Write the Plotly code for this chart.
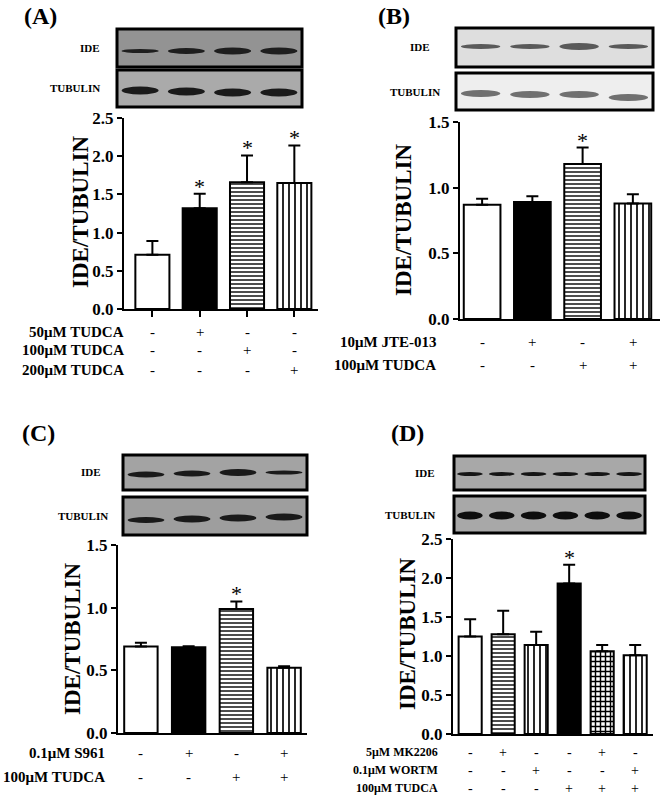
import plotly.graph_objects as go

# ---------------- data ----------------
A_values = [0.71, 1.32, 1.66, 1.65]
A_errors = [0.18, 0.19, 0.35, 0.49]
A_stars = [False, True, True, True]
A_rows = ["50\u03bcM TUDCA", "100\u03bcM TUDCA", "200\u03bcM TUDCA"]
A_signs = [["-", "+", "-", "-"], ["-", "-", "+", "-"], ["-", "-", "-", "+"]]

B_values = [0.87, 0.89, 1.18, 0.88]
B_errors = [0.045, 0.045, 0.125, 0.07]
B_stars = [False, False, True, False]
B_rows = ["10\u03bcM JTE-013", "100\u03bcM TUDCA"]
B_signs = [["-", "+", "-", "+"], ["-", "-", "+", "+"]]

C_values = [0.69, 0.685, 0.99, 0.52]
C_errors = [0.03, 0.008, 0.06, 0.012]
C_stars = [False, False, True, False]
C_rows = ["0.1\u03bcM S961", "100\u03bcM TUDCA"]
C_signs = [["-", "+", "-", "+"], ["-", "-", "+", "+"]]

D_values = [1.25, 1.28, 1.14, 1.93, 1.06, 1.01]
D_errors = [0.22, 0.30, 0.17, 0.24, 0.08, 0.13]
D_stars = [False, False, False, True, False, False]
D_rows = ["5\u03bcM MK2206", "0.1\u03bcM WORTM", "100\u03bcM TUDCA"]
D_signs = [["-", "+", "-", "-", "+", "-"], ["-", "-", "+", "-", "-", "+"],
           ["-", "-", "-", "+", "+", "+"]]

W, H = 660, 800
SERIF = "Liberation Serif, Times New Roman, serif"


def px(x):
    return x / W


def py(y):
    return 1 - y / H


# fill styles: (colour, pattern shape, pattern size, solidity)
WHITE = ("white", "", 8, 0.3)
BLACK = ("black", "", 8, 0.3)
HLINE = ("white", "-", 4, 0.35)
VLINE = ("white", "|", 6, 0.28)
CHECK = ("white", "+", 5, 0.5)

fig = go.Figure()
annotations = []
shapes = []

panels = [
    dict(name="(A)", lab=(40, 16), vals=A_values, errs=A_errors, stars=A_stars,
         rows=A_rows, signs=A_signs, ymax=2.5, dom_x=(124, 318), dom_y=(118, 309),
         xr=(-0.6, 3.5), width=0.72, fills=[WHITE, BLACK, HLINE, VLINE], xticks=True,
         title=(80, 212), rowx=126, rowy=[332, 350, 370], rowfs=15, signfs=15,
         blots=[("IDE", (117, 302, 29, 67), "#939393", "#1e1e1e", [4, 6, 7, 7], [3, 3, 3, 3], 102),
                ("TUBULIN", (117, 302, 70, 107), "#aaaaaa", "#1a1a1a", [8, 8, 8, 8], [2, 3, 4, 4], 102)],
         xaxis="x", yaxis="y"),
    dict(name="(B)", lab=(394, 16), vals=B_values, errs=B_errors, stars=B_stars,
         rows=B_rows, signs=B_signs, ymax=1.5, dom_x=(460, 660), dom_y=(122, 319),
         xr=(-0.44, 3.54), width=0.73, fills=[WHITE, BLACK, HLINE, VLINE], xticks=False,
         title=(403, 220), rowx=438, rowy=[342, 365], rowfs=15, signfs=15,
         blots=[("IDE", (456, 653, 28, 67), "#dedede", "#5a5a5a", [5, 5, 7, 5], [-1, -1, -1, -1], 432),
                ("TUBULIN", (456, 653, 73, 110), "#eeeeee", "#707070", [7, 7, 7, 7], [2, 3, 3, 6], 442)],
         xaxis="x2", yaxis="y2"),
    dict(name="(C)", lab=(38, 433), vals=C_values, errs=C_errors, stars=C_stars,
         rows=C_rows, signs=C_signs, ymax=1.5, dom_x=(118, 307), dom_y=(545, 733),
         xr=(-0.48, 3.48), width=0.7, fills=[WHITE, BLACK, HLINE, VLINE], xticks=False,
         title=(72, 639), rowx=107, rowy=[753, 777], rowfs=15, signfs=15,
         blots=[("IDE", (123, 307, 455, 490), "#a3a3a3", "#1a1a1a", [6, 6, 7, 4], [2, 1, 0, 0], 103),
                ("TUBULIN", (123, 307, 497, 535), "#9e9e9e", "#1a1a1a", [6, 7, 7, 7], [4, 3, 2, 1], 110)],
         xaxis="x3", yaxis="y3"),
    dict(name="(D)", lab=(407, 433), vals=D_values, errs=D_errors, stars=D_stars,
         rows=D_rows, signs=D_signs, ymax=2.5, dom_x=(453, 653), dom_y=(539, 734),
         xr=(-0.52, 5.54), width=0.7, fills=[WHITE, HLINE, VLINE, BLACK, CHECK, VLINE],
         xticks=False, title=(407, 634), rowx=440, rowy=[752, 770, 788], rowfs=12, signfs=14,
         blots=[("IDE", (454, 645, 456, 490), "#a8a8a8", "#151515", [4, 4, 4, 4, 4, 4], [1] * 6, 437),
                ("TUBULIN", (454, 645, 496, 533), "#a8a8a8", "#0e0e0e", [8, 8, 8, 8, 8, 8], [1] * 6, 437)],
         xaxis="x4", yaxis="y4"),
]

for i, p in enumerate(panels):
    n = len(p["vals"])
    xs = list(range(n))
    for k in range(n):
        col, shp, sz, sol = p["fills"][k]
        marker = dict(color=col, line=dict(color="black", width=2))
        if shp:
            marker["pattern"] = dict(shape=shp, size=sz, solidity=sol,
                                     fgcolor="black", bgcolor="white", fillmode="replace")
        fig.add_trace(go.Bar(
            x=[xs[k]], y=[p["vals"][k]], width=p["width"],
            xaxis=p["xaxis"], yaxis=p["yaxis"], marker=marker,
            error_y=dict(type="data", symmetric=False, array=[p["errs"][k]],
                         arrayminus=[0], color="black", thickness=2, width=6),
            showlegend=False, hoverinfo="skip",
        ))
    sfx = "" if i == 0 else str(i + 1)
    x0, x1 = p["dom_x"]
    ytop, ybot = p["dom_y"]
    fig.update_layout(**{
        "xaxis" + sfx: dict(
            domain=[px(x0), px(x1)], range=list(p["xr"]), anchor=p["yaxis"],
            showline=True, linewidth=2, linecolor="black", showgrid=False,
            zeroline=False, showticklabels=False, automargin=False,
            ticks="outside" if p["xticks"] else "", tickvals=xs,
            ticklen=6, tickwidth=2, tickcolor="black", fixedrange=True),
        "yaxis" + sfx: dict(
            domain=[py(ybot), py(ytop)], range=[0, p["ymax"]], anchor=p["xaxis"],
            showline=True, linewidth=2, linecolor="black", showgrid=False,
            zeroline=False, ticks="outside", ticklen=5, tickwidth=2, automargin=False,
            tickcolor="black", dtick=0.5, tickformat=".1f",
            tickfont=dict(family=SERIF, size=17, color="black", weight="bold"),
            fixedrange=True),
    })

    # stars
    for k in range(n):
        if p["stars"][k]:
            annotations.append(dict(
                x=k, y=p["vals"][k] + p["errs"][k], xref=p["xaxis"], yref=p["yaxis"],
                text="*", showarrow=False, yanchor="bottom", yshift=-7,
                font=dict(family=SERIF, size=22, color="black")))

    # treatment rows
    for r, (lab, signs) in enumerate(zip(p["rows"], p["signs"])):
        yy = py(p["rowy"][r])
        annotations.append(dict(
            x=px(p["rowx"]), y=yy, xref="paper", yref="paper", text=lab,
            showarrow=False, xanchor="right", yanchor="middle",
            font=dict(family=SERIF, size=p["rowfs"], color="black", weight="bold")))
        for k, s in enumerate(signs):
            annotations.append(dict(
                x=k, y=yy, xref=p["xaxis"], yref="paper", text=s,
                showarrow=False, xanchor="center", yanchor="middle",
                font=dict(family=SERIF, size=p["signfs"], color="black")))

    # axis title
    annotations.append(dict(
        x=px(p["title"][0]), y=py(p["title"][1]), xref="paper", yref="paper",
        text="IDE/TUBULIN", textangle=-90, showarrow=False,
        xanchor="center", yanchor="middle",
        font=dict(family=SERIF, size=23, color="black", weight="bold")))

    # panel letter
    annotations.append(dict(
        x=px(p["lab"][0]), y=py(p["lab"][1]), xref="paper", yref="paper",
        text=p["name"], showarrow=False, xanchor="center", yanchor="middle",
        font=dict(family=SERIF, size=24, color="black", weight="bold")))

    # blots (illustrative)
    for (blab, (bx0, bx1, by0, by1), bg, band, hts, dys, labx) in p["blots"]:
        shapes.append(dict(type="rect", xref="paper", yref="paper",
                           x0=px(bx0), x1=px(bx1), y0=py(by1), y1=py(by0),
                           fillcolor=bg, line=dict(color="black", width=3), layer="above"))
        lane = (bx1 - bx0) / len(hts)
        for k, h in enumerate(hts):
            cx = bx0 + lane * (k + 0.5)
            cy = (by0 + by1) / 2 + dys[k]
            shapes.append(dict(type="circle", xref="paper", yref="paper",
                               x0=px(cx - lane * 0.4), x1=px(cx + lane * 0.4),
                               y0=py(cy + h / 2), y1=py(cy - h / 2),
                               fillcolor=band, line=dict(width=0), layer="above"))
        annotations.append(dict(
            x=px(labx), y=py((by0 + by1) / 2), xref="paper", yref="paper", text=blab,
            showarrow=False, xanchor="right", yanchor="middle",
            font=dict(family=SERIF, size=11, color="black", weight="bold")))

fig.update_layout(
    width=W, height=H, margin=dict(l=0, r=0, t=0, b=0, autoexpand=False),
    plot_bgcolor="white", paper_bgcolor="white", barmode="overlay",
    annotations=annotations, shapes=shapes,
)

fig.write_html("out.html",
               config={"displayModeBar": False, "staticPlot": True},
               post_script="document.body.style.margin='0px';"
                           "document.body.style.padding='0px';"
                           "document.body.style.overflow='hidden';")
